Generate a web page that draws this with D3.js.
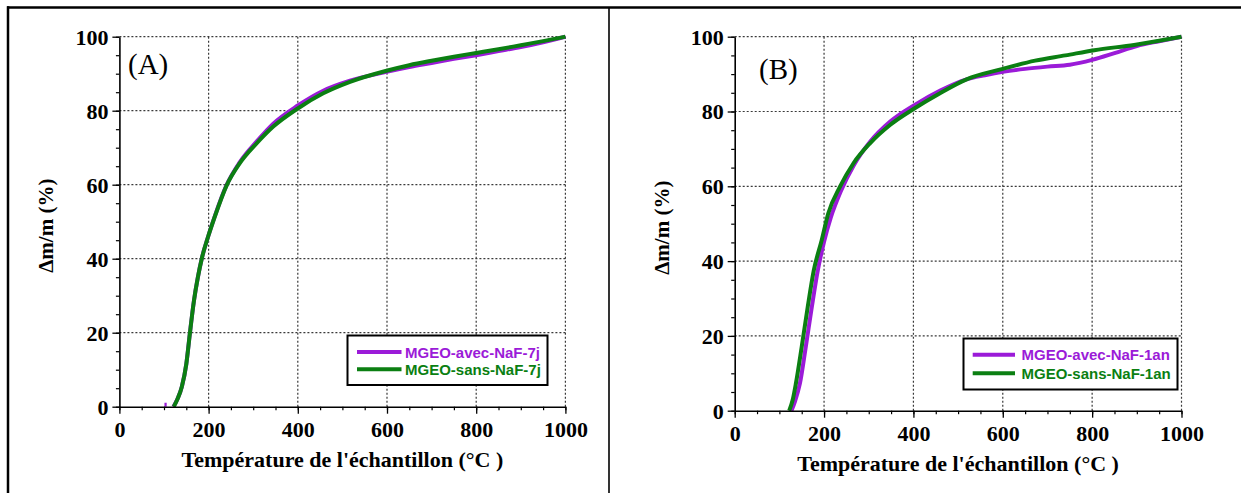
<!DOCTYPE html>
<html>
<head>
<meta charset="utf-8">
<script src="https://cdn.jsdelivr.net/npm/d3@7"></script>
<style>
  html, body { margin: 0; padding: 0; background: #fff; }
  svg { display: block; }
</style>
</head>
<body>
<svg id="chart" width="1241" height="493"></svg>
<script>
// ---------------- DATA ----------------
const xTicks = [0, 200, 400, 600, 800, 1000];
const yTicks = [0, 20, 40, 60, 80, 100];
const xLabel = "Température de l'échantillon (°C )";
const yLabel = "Δm/m (%)";

// Panel A
const panelATag = "(A)";
const seriesANames = ["MGEO-avec-NaF-7j", "MGEO-sans-NaF-7j"];
const avecA_T = [101, 106, null, 121, 130, 140, 150, 158, 167, 176, 185, 199, 214, 240, 270, 308, 345, 400, 457, 517, 599, 650, 700, 750, 800, 850, 900, 950, 1000];
const avecA_V = [0.5, 0.5, null, 0, 2, 5.4, 11.5, 19.8, 28.5, 35, 40.2, 46, 51.5, 59.8, 66.1, 71.7, 76.5, 81.4, 85.4, 88.1, 90.5, 91.8, 92.9, 94, 95, 96.1, 97.2, 98.5, 100];
const sansA_T = [122, 130, 140, 150, 158, 167, 176, 185, 199, 214, 240, 270, 308, 345, 400, 457, 517, 599, 650, 700, 750, 800, 850, 900, 950, 1000];
const sansA_V = [0, 2, 5.4, 11.5, 19.8, 28.5, 35, 40.2, 46, 51.4, 59.7, 65.8, 71.2, 75.7, 80.6, 84.7, 87.8, 90.8, 92.3, 93.5, 94.6, 95.6, 96.6, 97.7, 98.8, 100];

// Panel B
const panelBTag = "(B)";
const seriesBNames = ["MGEO-avec-NaF-1an", "MGEO-sans-NaF-1an"];
const avecB_T = [127, 135, 146, 159, 172.7, 186, 200, 215, 238, 266, 303, 348, 402, 460, 519, 560, 600, 650, 700, 750, 800, 850, 900, 950, 1000];
const avecB_V = [0, 2.5, 7.3, 17, 27.8, 37.5, 45.2, 51.6, 58.8, 65.5, 71.9, 77.3, 81.7, 85.6, 88.6, 89.7, 90.6, 91.4, 92, 92.5, 93.8, 95.6, 97.5, 98.8, 100];
const sansB_T = [122, 130, 137, 150, 163.5, 177, 194.7, 209.5, 235.7, 265.5, 302.8, 347.6, 402, 459.5, 519, 600, 672.5, 740, 805, 894, 950, 1000];
const sansB_V = [0, 3, 7.3, 17.1, 27.8, 37.5, 45.6, 52.8, 59.9, 66.1, 71.5, 76.4, 80.8, 84.9, 88.6, 91.4, 93.6, 95, 96.4, 97.8, 98.9, 100];

// ---------------- STYLE ----------------
const PURPLE = "#9b1bd8";
const GREEN = "#0b7f12";
const SERIF = "'Liberation Serif', 'Times New Roman', serif";
const SANS = "'Liberation Sans', Arial, sans-serif";

const svg = d3.select("#chart");

// outer frame
svg.append("line").attr("x1", 7).attr("x2", 1241).attr("y1", 7.5).attr("y2", 7.5)
  .attr("stroke", "#000").attr("stroke-width", 2.5);
svg.append("line").attr("x1", 8).attr("x2", 8).attr("y1", 6.3).attr("y2", 493)
  .attr("stroke", "#000").attr("stroke-width", 2.5);
svg.append("line").attr("x1", 609).attr("x2", 609).attr("y1", 7).attr("y2", 493)
  .attr("stroke", "#000").attr("stroke-width", 1.6);

function zip(T, V) { return T.map((t, i) => ({ t: t, v: V[i] })); }

function drawPanel(cfg) {
  const x = d3.scaleLinear().domain([0, 1000]).range([cfg.x0, cfg.x1]);
  const y = d3.scaleLinear().domain([0, 100]).range([cfg.yB, cfg.yT]);
  const g = svg.append("g");

  // grid
  g.append("g").selectAll("line").data(xTicks.filter(d => d > 0)).join("line")
    .attr("x1", d => x(d)).attr("x2", d => x(d))
    .attr("y1", y(0)).attr("y2", y(100))
    .attr("stroke", "#3a3a3a").attr("stroke-width", 1.2).attr("stroke-dasharray", "2,2");
  g.append("g").selectAll("line").data(yTicks.filter(d => d > 0)).join("line")
    .attr("x1", x(0)).attr("x2", x(1000))
    .attr("y1", d => y(d)).attr("y2", d => y(d))
    .attr("stroke", "#3a3a3a").attr("stroke-width", 1.2).attr("stroke-dasharray", "2,2");

  // curves
  const line = d3.line()
    .defined(d => d.t !== null && d.v !== null)
    .x(d => x(d.t)).y(d => y(d.v))
    .curve(d3.curveMonotoneX);
  cfg.series.forEach(s => {
    g.append("path").datum(zip(s.T, s.V))
      .attr("d", line).attr("fill", "none")
      .attr("stroke", s.color).attr("stroke-width", 4)
      .attr("stroke-linejoin", "round").attr("stroke-linecap", "butt");
  });

  // minor ticks
  const minorX = d3.axisBottom(x).tickValues(d3.range(0, 1001, 50)).tickSize(3.5).tickFormat("");
  const minorY = d3.axisLeft(y).tickValues(d3.range(0, 101, 5)).tickSize(3.5).tickFormat("");
  g.append("g").attr("transform", `translate(0,${cfg.yB})`).call(minorX)
    .call(a => a.select(".domain").remove())
    .selectAll("line").attr("stroke", "#000").attr("stroke-width", 1.2);
  g.append("g").attr("transform", `translate(${cfg.x0},0)`).call(minorY)
    .call(a => a.select(".domain").remove())
    .selectAll("line").attr("stroke", "#000").attr("stroke-width", 1.2);

  // major axes
  const fmt = d3.format("d");
  const ax = g.append("g").attr("transform", `translate(0,${cfg.yB})`)
    .call(d3.axisBottom(x).tickValues(xTicks).tickFormat(fmt).tickSize(7).tickSizeOuter(0));
  ax.select(".domain").attr("stroke", "#000").attr("stroke-width", 1.6);
  ax.selectAll(".tick line").attr("stroke", "#000").attr("stroke-width", 1.3);
  ax.selectAll("text").attr("dy", null).attr("y", 30.5)
    .attr("font-family", SERIF).attr("font-weight", "bold").attr("font-size", 22).attr("fill", "#000");

  const ay = g.append("g").attr("transform", `translate(${cfg.x0},0)`)
    .call(d3.axisLeft(y).tickValues(yTicks).tickFormat(fmt).tickSize(7).tickSizeOuter(0));
  ay.select(".domain").attr("stroke", "#000").attr("stroke-width", 1.6);
  ay.selectAll(".tick line").attr("stroke", "#000").attr("stroke-width", 1.3);
  ay.selectAll("text").attr("x", -11).attr("dy", "0.34em")
    .attr("font-family", SERIF).attr("font-weight", "bold").attr("font-size", 22).attr("fill", "#000");

  // axis titles
  g.append("text").attr("x", (cfg.x0 + cfg.x1) / 2).attr("y", cfg.yB + 60)
    .attr("text-anchor", "middle").attr("font-family", SERIF).attr("font-weight", "bold")
    .attr("font-size", 22).text(xLabel);
  g.append("text")
    .attr("transform", `translate(${cfg.x0 - 66},${(cfg.yT + cfg.yB) / 2 + 4}) rotate(-90)`)
    .attr("text-anchor", "middle").attr("font-family", SERIF).attr("font-weight", "bold")
    .attr("font-size", 21).text(yLabel);

  // panel tag
  g.append("text").attr("x", cfg.tagX).attr("y", cfg.tagY)
    .attr("font-family", SERIF).attr("font-size", 29).text(cfg.tag);

  // legend
  const L = cfg.legend;
  g.append("rect").attr("x", L.x).attr("y", L.y).attr("width", L.w).attr("height", L.h)
    .attr("fill", "#fff").attr("stroke", "#000").attr("stroke-width", 2);
  cfg.series.forEach((s, i) => {
    const ly = L.y + L.row0 + i * L.rowGap;
    g.append("line").attr("x1", L.x + L.lx0).attr("x2", L.x + L.lx1)
      .attr("y1", ly).attr("y2", ly).attr("stroke", s.color).attr("stroke-width", 4);
    g.append("text").attr("x", L.x + L.tx).attr("y", ly + 5.5)
      .attr("font-family", SANS).attr("font-weight", "bold").attr("font-size", 15)
      .attr("fill", s.color).text(s.name);
  });
}

drawPanel({
  x0: 119.4, x1: 565.4, yT: 36.7, yB: 406.7,
  tag: panelATag, tagX: 128, tagY: 74,
  series: [
    { name: seriesANames[0], T: avecA_T, V: avecA_V, color: PURPLE },
    { name: seriesANames[1], T: sansA_T, V: sansA_V, color: GREEN }
  ],
  legend: { x: 347.5, y: 335.5, w: 200, h: 49.5, row0: 16.5, rowGap: 17.3, lx0: 9.5, lx1: 54, tx: 57.5 }
});

drawPanel({
  x0: 734.7, x1: 1181.5, yT: 36.7, yB: 410.7,
  tag: panelBTag, tagX: 759, tagY: 78.5,
  series: [
    { name: seriesBNames[0], T: avecB_T, V: avecB_V, color: PURPLE },
    { name: seriesBNames[1], T: sansB_T, V: sansB_V, color: GREEN }
  ],
  legend: { x: 963.5, y: 338.5, w: 214, h: 51, row0: 16.2, rowGap: 18.6, lx0: 9.2, lx1: 51.5, tx: 58 }
});
</script>
</body>
</html>
